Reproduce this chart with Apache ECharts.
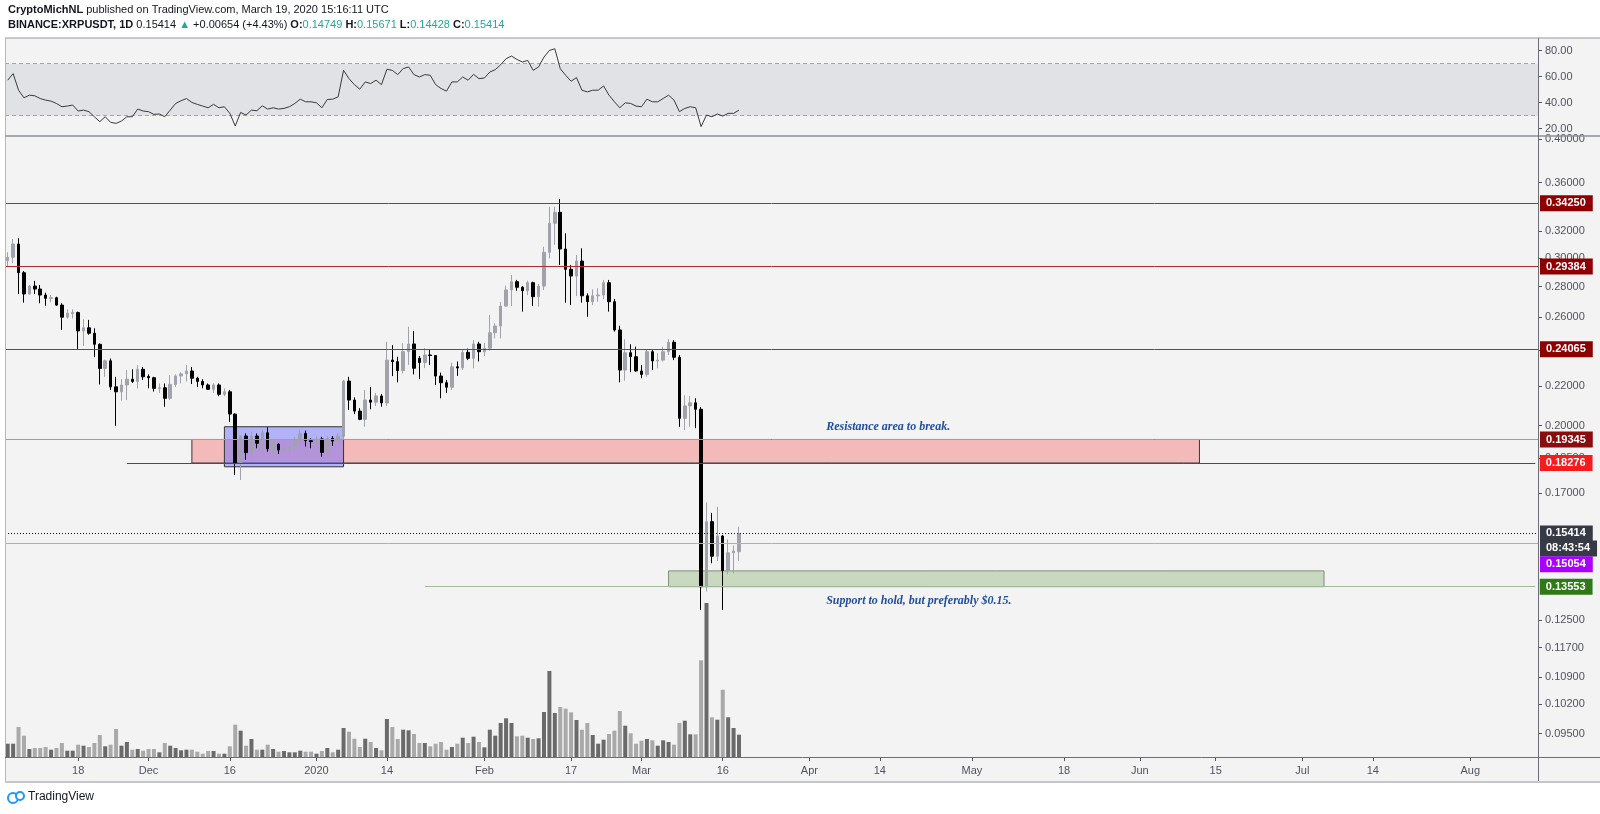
<!DOCTYPE html>
<html><head><meta charset="utf-8">
<script src="https://cdn.jsdelivr.net/npm/echarts@6/dist/echarts.min.js"></script>
<style>html,body{margin:0;padding:0;background:#fff}#c{width:1600px;height:814px}</style>
</head><body><div id="c"></div>
<script>
// ---------------- data ----------------
const startDate = '2019-11-05';
const dayCount = 283; // visible days on the time axis (Nov 5 2019 .. Aug 13 2020)

const opens = [0.2980,0.3005,0.3103,0.2895,0.2750,0.2803,0.2783,0.2743,0.2721,0.2725,
0.2677,0.2600,0.2622,0.2630,0.2515,0.2534,0.2501,0.2435,0.2297,0.2340,
0.2197,0.2171,0.2207,0.2238,0.2226,0.2292,0.2253,0.2246,0.2189,0.2192,
0.2137,0.2210,0.2256,0.2267,0.2283,0.2243,0.2226,0.2207,0.2184,0.2207,
0.2158,0.2171,0.2057,0.1829,0.1951,0.1874,0.1951,0.1917,0.1966,0.1891,
0.1912,0.1886,0.1893,0.1902,0.1932,0.1963,0.1929,0.1924,0.1937,0.1875,
0.1940,0.1927,0.1950,0.2228,0.2128,0.2072,0.2031,0.2128,0.2117,0.2149,
0.2113,0.2344,0.2335,0.2285,0.2392,0.2437,0.2354,0.2330,0.2373,0.2370,
0.2255,0.2219,0.2195,0.2306,0.2300,0.2388,0.2354,0.2437,0.2392,0.2412,
0.2504,0.2545,0.2671,0.2777,0.2833,0.2795,0.2772,0.2826,0.2732,0.2803,
0.3042,0.3262,0.3350,0.3066,0.2919,0.2872,0.2978,0.2738,0.2699,0.2738,
0.2743,0.2826,0.2699,0.2521,0.2288,0.2386,0.2363,0.2283,0.2264,0.2392,
0.2339,0.2344,0.2392,0.2447,0.2360,0.2036,0.2098,0.2114,0.2081,0.1355,
0.1586,0.1459,0.1532,0.1409,0.1471,0.14749];
const highs = [0.3042,0.3141,0.3146,0.2907,0.2810,0.2838,0.2810,0.2759,0.2743,0.2732,
0.2689,0.2650,0.2650,0.2635,0.2587,0.2583,0.2531,0.2440,0.2347,0.2353,
0.2251,0.2238,0.2288,0.2292,0.2316,0.2305,0.2264,0.2251,0.2215,0.2215,
0.2260,0.2264,0.2276,0.2316,0.2305,0.2251,0.2238,0.2215,0.2216,0.2215,
0.2189,0.2181,0.2060,0.1955,0.1963,0.1971,0.1963,0.1979,0.1993,0.1932,
0.1917,0.1932,0.1924,0.1947,0.1983,0.1977,0.1940,0.1950,0.1947,0.1950,
0.1950,0.1964,0.2234,0.2251,0.2142,0.2087,0.2181,0.2197,0.2165,0.2160,
0.2450,0.2430,0.2363,0.2441,0.2541,0.2515,0.2367,0.2413,0.2403,0.2373,
0.2274,0.2234,0.2330,0.2336,0.2403,0.2410,0.2460,0.2450,0.2443,0.2614,
0.2562,0.2698,0.2806,0.2879,0.2845,0.2803,0.2840,0.2833,0.2817,0.3083,
0.3396,0.3396,0.3460,0.3184,0.2950,0.3022,0.3071,0.2754,0.2781,0.2788,
0.2845,0.2845,0.2717,0.2547,0.2465,0.2435,0.2421,0.2316,0.2403,0.2403,
0.2382,0.2421,0.2465,0.2460,0.2373,0.2153,0.2148,0.2137,0.2092,0.1662,
0.1620,0.1644,0.1536,0.1519,0.1497,0.15671];
const lows = [0.2937,0.2962,0.2750,0.2693,0.2747,0.2750,0.2689,0.2673,0.2695,0.2673,
0.2521,0.2591,0.2593,0.2406,0.2425,0.2492,0.2360,0.2210,0.2251,0.2180,
0.2000,0.2125,0.2128,0.2218,0.2189,0.2234,0.2189,0.2172,0.2165,0.2094,
0.2128,0.2197,0.2215,0.2226,0.2212,0.2197,0.2189,0.2181,0.2165,0.2148,
0.2148,0.2017,0.1775,0.1754,0.1841,0.1841,0.1894,0.1878,0.1878,0.1872,
0.1868,0.1868,0.1868,0.1878,0.1902,0.1902,0.1894,0.1905,0.1856,0.1859,
0.1905,0.1917,0.1932,0.2078,0.2057,0.2027,0.1995,0.2081,0.2098,0.2094,
0.2098,0.2255,0.2221,0.2270,0.2316,0.2264,0.2238,0.2299,0.2316,0.2207,
0.2137,0.2165,0.2181,0.2256,0.2288,0.2344,0.2298,0.2336,0.2367,0.2398,
0.2470,0.2470,0.2667,0.2671,0.2772,0.2635,0.2743,0.2671,0.2667,0.2776,
0.2998,0.3096,0.2950,0.2693,0.2677,0.2736,0.2693,0.2603,0.2677,0.2699,
0.2715,0.2635,0.2511,0.2221,0.2230,0.2276,0.2280,0.2243,0.2251,0.2288,
0.2298,0.2336,0.2373,0.2344,0.1995,0.1979,0.1995,0.1988,0.1281,0.1340,
0.1434,0.1442,0.1281,0.1397,0.1399,0.14428];
const closes = [0.3005,0.3103,0.2895,0.2750,0.2803,0.2783,0.2743,0.2721,0.2725,0.2677,
0.2600,0.2625,0.2630,0.2515,0.2534,0.2501,0.2435,0.2297,0.2340,0.2197,
0.2171,0.2207,0.2238,0.2226,0.2292,0.2251,0.2246,0.2189,0.2192,0.2137,
0.2210,0.2256,0.2267,0.2283,0.2243,0.2226,0.2207,0.2184,0.2207,0.2158,
0.2171,0.2057,0.1829,0.1951,0.1874,0.1951,0.1917,0.1966,0.1891,0.1912,
0.1886,0.1893,0.1902,0.1932,0.1963,0.1929,0.1924,0.1937,0.1875,0.1940,
0.1927,0.1950,0.2228,0.2128,0.2072,0.2031,0.2128,0.2117,0.2149,0.2113,
0.2344,0.2335,0.2285,0.2392,0.2437,0.2298,0.2330,0.2373,0.2370,0.2255,
0.2219,0.2195,0.2306,0.2300,0.2388,0.2354,0.2437,0.2392,0.2412,0.2504,
0.2545,0.2671,0.2777,0.2833,0.2795,0.2772,0.2826,0.2732,0.2803,0.3042,
0.3262,0.3350,0.3066,0.2919,0.2872,0.2978,0.2738,0.2699,0.2738,0.2743,
0.2826,0.2699,0.2521,0.2288,0.2386,0.2363,0.2283,0.2264,0.2392,0.2339,
0.2344,0.2392,0.2447,0.2360,0.2036,0.2098,0.2114,0.2081,0.1355,0.1586,
0.1459,0.1532,0.1409,0.1471,0.1477,0.15414];
const volumes = [133,133,300,213,80,90,90,100,73,90,
140,63,63,123,113,100,140,220,107,123,
280,113,150,73,80,63,80,80,47,140,
113,90,67,73,73,53,33,60,60,33,
33,107,323,263,113,180,73,73,123,80,
53,60,47,47,63,53,53,33,60,90,
47,73,290,253,183,100,183,150,90,67,
380,300,180,273,267,230,140,140,107,133,
150,73,100,133,193,140,203,150,97,273,
213,340,387,340,207,213,193,180,187,450,
860,440,500,483,447,370,273,340,220,133,
173,230,263,460,313,237,133,163,180,167,
113,167,150,123,340,363,227,227,967,1540,
397,373,673,397,290,223];
const rsiValues = [57.3,62.4,49.6,43.8,45.8,45.3,43.2,42.0,41.2,39.4,
36.9,37.4,38.2,33.6,34.3,33.1,29.2,25.4,29.2,24.9,
24.1,25.9,29.2,29.2,35.1,33.6,33.1,31.0,31.3,29.2,
34.3,39.4,41.5,43.2,40.2,38.7,37.4,36.1,38.7,36.1,
36.9,31.8,22.1,32.5,30.5,34.3,33.8,37.6,35.1,36.1,
35.1,35.6,36.9,39.4,42.7,40.7,40.7,39.9,36.1,42.5,
42.7,44.5,64.9,58.5,53.9,50.4,56.0,54.7,57.3,53.9,
65.7,64.9,61.6,66.2,67.5,61.6,59.8,61.6,61.1,53.9,
50.9,48.9,56.0,56.0,59.8,57.3,61.8,58.5,59.0,63.6,
65.4,69.2,73.8,75.9,73.3,71.3,72.5,64.9,67.5,75.1,
80.2,81.5,66.2,61.1,56.5,59.3,49.6,48.3,49.6,49.6,
52.9,45.8,40.7,36.1,39.9,39.4,37.4,36.9,42.7,40.7,
40.7,43.2,45.8,42.0,33.1,35.6,36.9,36.1,21.6,30.5,
29.2,31.3,29.7,31.8,31.8,34.3];

const xTickDates = ['2019-11-18','2019-12-01','2019-12-16','2020-01-01','2020-01-14','2020-02-01','2020-02-17','2020-03-01','2020-03-16','2020-04-01','2020-04-14','2020-05-01','2020-05-18','2020-06-01','2020-06-15','2020-07-01','2020-07-14','2020-08-01'];
const xTickLabels = ['18','Dec','16','2020','14','Feb','17','Mar','16','Apr','14','May','18','Jun','15','Jul','14','Aug'];
const priceTicks = [0.40,0.36,0.32,0.30,0.28,0.26,0.24,0.22,0.20,0.185,0.17,0.125,0.117,0.109,0.102,0.095];
const rsiTicks = [20,40,60,80];
const rsiBand = [30,70];
const levelValues = [0.34250,0.29384,0.24065,0.19345,0.18276,0.15414,0.15054,0.13553];
const resistanceZone = [0.19345,0.18276];
const rangeBox = [0.1995,0.1811];
const supportZone = [0.1408,0.13553];
const noteTexts = ['Resistance area to break.','Support to hold, but preferably $0.15.'];
const notePrices = [0.1994,0.1309];
const countdownText = '08:43:54';

// ---------------- build ----------------
const dates = [];
(function(){const d0=new Date(startDate+'T00:00:00Z');for(let k=0;k<dayCount;k++){dates.push(new Date(d0.getTime()+k*86400000).toISOString().slice(0,10));}})();
const L = Math.log;
const candleData = opens.map((o,i)=>[L(o),L(closes[i]),L(lows[i]),L(highs[i])]);
const volData = volumes.map((v,i)=>({value:v,itemStyle:{color: closes[i]>=opens[i] ? '#6a6a6a' : '#a9a9a9'}}));
const tickMap = {}; xTickDates.forEach((d,k)=>tickMap[d]=xTickLabels[k]);
const lastDate = dates[dayCount-1];

const FONT = 'Liberation Sans, Arial, sans-serif';
const axisTxt = {color:'#50535e', fontSize:11, fontFamily:FONT};
const tagLabel = (bg, dist, extra) => Object.assign({show:true, position:'end', distance:dist, color:'#fff', fontWeight:'bold', fontSize:11, fontFamily:FONT, backgroundColor:bg, padding:[2,7,2,6], lineHeight:12}, extra||{});

const fullLine = (v, color, type, bg, extra) => ({yAxis:L(v), lineStyle:{color, width:1, type, opacity:1}, label:tagLabel(bg, 2, Object.assign({formatter:v.toFixed(5)}, extra||{}))});
const partLine = (fromIdx, v, color, bg) => [{coord:[dates[fromIdx], L(v)], lineStyle:{color, width:1, type:'solid'}, label:tagLabel(bg, 4.5, {formatter:v.toFixed(5)})},{coord:[lastDate, L(v)]}];

const markLines = [
  fullLine(levelValues[1], '#b02c2c', 'solid', '#8e0000'),
  fullLine(levelValues[2], '#b02c2c', 'solid', '#8e0000'),
  fullLine(levelValues[0], '#b02c2c', 'solid', '#8e0000'),
  fullLine(levelValues[3], '#bf9090', 'solid', '#8a0c0c'),
  partLine(22, levelValues[4], '#ff0000', '#f71c1c'),
  fullLine(levelValues[5], '#131722', [1,2], '#363a45'),
  {yAxis:L(levelValues[5]), lineStyle:{color:'rgba(0,0,0,0)', width:0}, label:tagLabel('#363a45', 2, {formatter:countdownText, offset:[0,15]})},
  fullLine(levelValues[6], '#bb9cf2', 'solid', '#aa00ff', {offset:[0,21]}),
  partLine(77, levelValues[7], '#a3b99b', '#2f7a17')
];

const chart = echarts.init(document.getElementById('c'), null, {renderer:'canvas'});
const gridL = 5, gridW = 1533;
chart.setOption({
  animation:false,
  textStyle:{fontFamily:FONT},
  grid:[
    {left:gridL, width:gridW, top:38, height:98, outerBoundsMode:'none'},
    {left:gridL, width:gridW, top:136, height:621, outerBoundsMode:'none'},
    {left:gridL, width:gridW, top:557, height:200, outerBoundsMode:'none'}
  ],
  xAxis:[
    {type:'category', gridIndex:0, data:dates, boundaryGap:true, show:false},
    {type:'category', gridIndex:1, data:dates, boundaryGap:true,
      axisLine:{show:false}, splitLine:{show:false},
      axisTick:{show:true, alignWithLabel:true, length:4, lineStyle:{color:'#50535e'}, interval:(i,v)=>tickMap[v]!==undefined},
      axisLabel:Object.assign({interval:(i,v)=>tickMap[v]!==undefined, formatter:(v)=>tickMap[v]||'', margin:8}, axisTxt)},
    {type:'category', gridIndex:2, data:dates, boundaryGap:true, show:false}
  ],
  yAxis:[
    {type:'value', gridIndex:0, position:'right', min:14.38, max:89.77, splitLine:{show:false}, axisLine:{show:false},
      axisTick:{show:true, length:4, lineStyle:{color:'#50535e'}, customValues:rsiTicks},
      axisLabel:Object.assign({customValues:rsiTicks, formatter:(v)=>v.toFixed(2), margin:7}, axisTxt)},
    {type:'value', gridIndex:1, position:'right', min:L(0.08979), max:L(0.40290), splitLine:{show:false}, axisLine:{show:false},
      axisTick:{show:true, length:4, lineStyle:{color:'#50535e'}, customValues:priceTicks.map(L)},
      axisLabel:Object.assign({customValues:priceTicks.map(L), formatter:(v)=>Math.exp(v).toFixed(5), margin:7}, axisTxt)},
    {type:'value', gridIndex:2, min:0, max:2000, show:false}
  ],
  series:[
    {type:'line', xAxisIndex:0, yAxisIndex:0, data:rsiValues, symbol:'none', lineStyle:{color:'#3a3a3a', width:1}, silent:true, z:5,
      markArea:{silent:true, itemStyle:{color:'#e1e2e6'}, data:[[{yAxis:rsiBand[0]},{yAxis:rsiBand[1]}]]},
      markLine:{silent:true, symbol:['none','none'], label:{show:false}, lineStyle:{color:'#a2a4aa', type:[4,3], width:1},
        data:[{yAxis:rsiBand[0]},{yAxis:rsiBand[1]}]}},
    {type:'bar', xAxisIndex:2, yAxisIndex:2, data:volData, barWidth:4, silent:true, z:1},
    {type:'candlestick', xAxisIndex:1, yAxisIndex:1, data:candleData, barWidth:3, silent:true, z:3,
      itemStyle:{color:'#a0a3ac', color0:'#000000', borderColor:'#a0a3ac', borderColor0:'#000000', borderWidth:1},
      markArea:{silent:true, data:[
        [{coord:[dates[34], L(resistanceZone[0])], itemStyle:{color:'rgba(245,80,80,0.35)', borderColor:'#353a3a', borderWidth:1}},{coord:[dates[220], L(resistanceZone[1])]}],
        [{coord:[dates[40], L(rangeBox[0])], itemStyle:{color:'rgba(100,100,255,0.45)', borderColor:'#333', borderWidth:1}},{coord:[dates[62], L(rangeBox[1])]}],
        [{coord:[dates[122], L(supportZone[0])], itemStyle:{color:'rgba(90,150,60,0.28)', borderColor:'#7d8f74', borderWidth:1}},{coord:[dates[243], L(supportZone[1])]}]
      ]},
      markLine:{silent:true, symbol:['none','none'], precision:6, data:markLines},
      markPoint:{silent:true, symbol:'circle', symbolSize:1, itemStyle:{color:'rgba(0,0,0,0)'},
        label:{show:true, position:'right', distance:0, color:'#1f4ea3', fontFamily:'Liberation Serif, Times New Roman, serif', fontStyle:'italic', fontWeight:'bold', fontSize:12},
        data:[
          {coord:[dates[151], L(notePrices[0])], label:{formatter:noteTexts[0]}},
          {coord:[dates[151], L(notePrices[1])], label:{formatter:noteTexts[1]}}
        ]}
    }
  ],
  graphic:{elements:[
    {type:'rect', z:-100, silent:true, shape:{x:5, y:38, width:1595, height:744}, style:{fill:'#f3f3f3'}},
    {type:'line', z:100, silent:true, shape:{x1:5, y1:38, x2:1600, y2:38}, style:{stroke:'#b6b8bf', lineWidth:1.5}},
    {type:'line', z:100, silent:true, shape:{x1:5.5, y1:38, x2:5.5, y2:782}, style:{stroke:'#b6b8bf', lineWidth:1}},
    {type:'line', z:100, silent:true, shape:{x1:5, y1:136, x2:1600, y2:136}, style:{stroke:'#8d9099', lineWidth:1.5}},
    {type:'line', z:100, silent:true, shape:{x1:5, y1:757.5, x2:1600, y2:757.5}, style:{stroke:'#6b6e78', lineWidth:1}},
    {type:'line', z:100, silent:true, shape:{x1:1538.5, y1:38, x2:1538.5, y2:782}, style:{stroke:'#6b6e78', lineWidth:1}},
    {type:'line', z:100, silent:true, shape:{x1:5, y1:782, x2:1600, y2:782}, style:{stroke:'#c4c6cc', lineWidth:2}},
    {type:'text', z:100, silent:true, x:8, y:10, style:{verticalAlign:'middle', text:'{b|CryptoMichNL}{n| published on TradingView.com, March 19, 2020 15:16:11 UTC}',
      rich:{b:{fontWeight:'bold', fontSize:11, fill:'#131722', fontFamily:FONT}, n:{fontSize:11, fill:'#131722', fontFamily:FONT}}}},
    {type:'text', z:100, silent:true, x:8, y:25, style:{verticalAlign:'middle',
      text:'{b|BINANCE:XRPUSDT, 1D}{n| 0.15414 }{g|▲}{n| +0.00654 (+4.43%) }{b|O:}{g|0.14749}{b| H:}{g|0.15671}{b| L:}{g|0.14428}{b| C:}{g|0.15414}',
      rich:{b:{fontWeight:'bold', fontSize:11, fill:'#131722', fontFamily:FONT}, n:{fontSize:11, fill:'#131722', fontFamily:FONT}, g:{fontSize:11, fill:'#26a69a', fontFamily:FONT}}}},
    {type:'circle', z:100, silent:true, shape:{cx:13, cy:798, r:5}, style:{fill:'none', stroke:'#2196f3', lineWidth:2}},
    {type:'circle', z:100, silent:true, shape:{cx:20, cy:796, r:4}, style:{fill:'#fff', stroke:'#2196f3', lineWidth:2}},
    {type:'text', z:100, silent:true, x:28, y:797, style:{verticalAlign:'middle', text:'TradingView', fontSize:12, fill:'#131722', fontFamily:FONT}}
  ]}
});
</script></body></html>
